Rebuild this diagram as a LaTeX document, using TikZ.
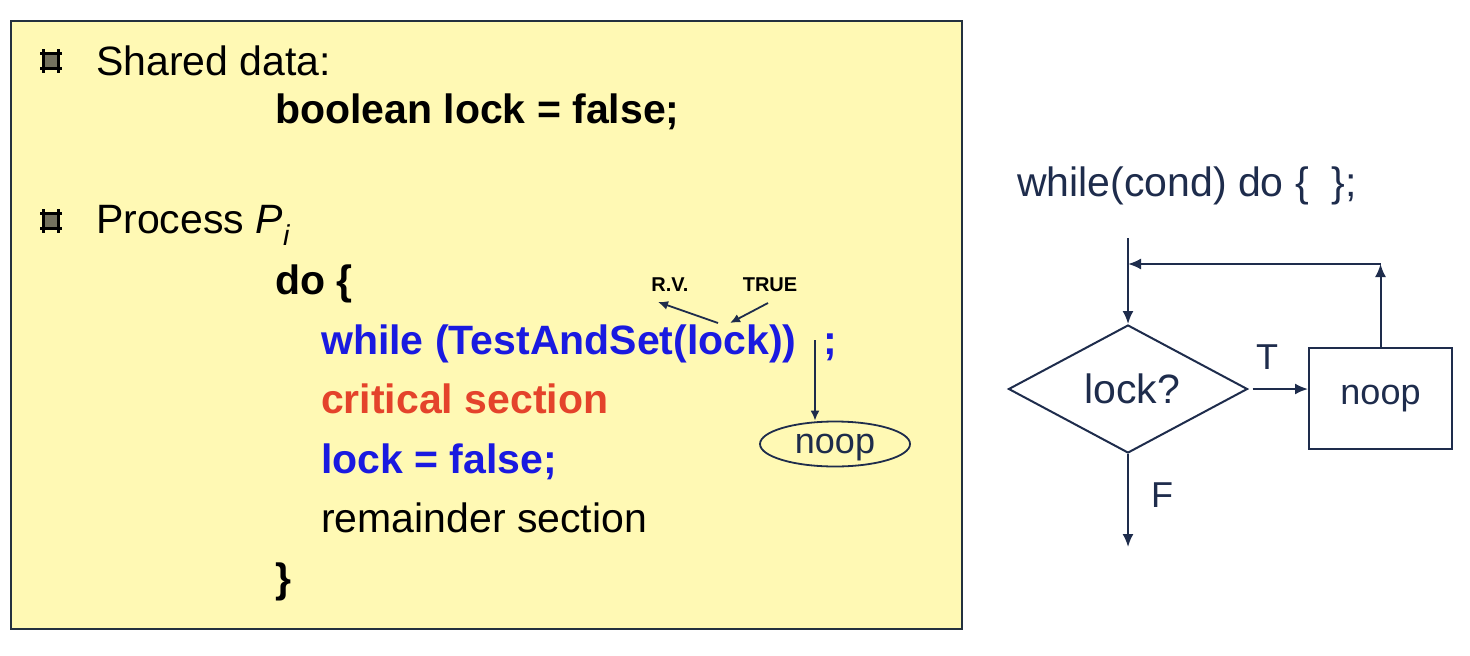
\documentclass[tikz,border=0pt]{standalone}
\usepackage{fontspec}
\setmainfont{Liberation Sans}
\usetikzlibrary{shapes.geometric,arrows.meta}
\definecolor{slidefill}{HTML}{FFF9B4}
\definecolor{slideedge}{HTML}{24313F}
\definecolor{navy}{HTML}{1E2C4C}
\definecolor{codeblue}{HTML}{1A1AE0}
\definecolor{codered}{HTML}{E4432B}
\definecolor{hashgrey}{HTML}{74725F}
\tikzset{
  hashbullet/.pic={
    \fill[hashgrey] (-7.5,-7.5) rectangle (7.5,7.5);
    \draw[black,line width=2.8pt] (-7.5,-12) -- (-7.5,12) (7.5,-12) -- (7.5,12)
      (-11,-7.5) -- (11,-7.5) (-11,7.5) -- (11,7.5);
  }
}
\begin{document}
\begin{tikzpicture}[x=1pt,y=-1pt,
  txt/.style={anchor=base west,inner sep=0pt,font=\fontsize{41}{49}\selectfont},
  btxt/.style={anchor=base west,inner sep=0pt,font=\fontsize{41}{49}\selectfont\bfseries},
  small/.style={inner sep=0pt,font=\fontsize{20}{24}\selectfont\bfseries},
  rtxt/.style={anchor=base west,inner sep=0pt,text=navy,font=\fontsize{41}{49}\selectfont},
  lbl/.style={inner sep=0pt,text=navy,font=\fontsize{36}{43}\selectfont},
  larr/.style={draw=navy,line width=1.8pt,-{Latex[length=10pt,width=9pt]}},
  farr/.style={draw=navy,line width=2pt,-{Latex[length=13pt,width=11pt]}},
  decision/.style={diamond,draw=navy,line width=2pt,aspect=1.87,minimum width=239pt,minimum height=128pt,inner sep=0pt,text=navy,font=\fontsize{41}{49}\selectfont},
  procbox/.style={rectangle,draw=navy,line width=2pt,minimum width=143pt,minimum height=101pt,inner sep=0pt,text=navy,font=\fontsize{36}{43}\selectfont},
  ovalnode/.style={ellipse,draw=navy,line width=1.8pt,minimum width=150pt,minimum height=45pt,inner sep=0pt,text depth=0pt,text=navy,font=\fontsize{36}{43}\selectfont},
  panelbox/.style={rectangle,draw=slideedge,fill=slidefill,line width=2.5pt,minimum width=951pt,minimum height=608pt,inner sep=0pt}
]
\useasboundingbox (0,0) rectangle (1470,656);
\fill[white] (0,0) rectangle (1470,656);

% left panel
\node[panelbox] (panel) at (486.5,325) {};
\pic at (51,61) {hashbullet};
\pic at (51,221) {hashbullet};
\node[txt] (shared) at (96,75) {Shared data:};
\node[btxt] (decl) at (275,123) {boolean lock = false;};
\node[txt] (proc) at (96,233) {Process \textit{P}\textsubscript{\textit{i}}};
\node[btxt] (do) at (275,294) {do \{};
\node[btxt,text=codeblue] (while) at (321,354) {while (TestAndSet(lock))};
\node[btxt,text=codeblue] (semi) at (823,354) {;};
\node[btxt,text=codered] (crit) at (321,413) {critical section};
\node[btxt,text=codeblue] (unlock) at (321,473) {lock = false;};
\node[txt] (rem) at (321,532) {remainder section};
\node[btxt] (close) at (275,592) {\}};

% annotations
\node[small] (rv) at (670,285) {R.V.};
\node[small] (true) at (770,285) {TRUE};
\coordinate (lockL) at (718,323);
\coordinate (lockR) at (730,323);
\coordinate (rvtip) at (658,302);
\coordinate (truefoot) at (768,303);
\draw[larr] (lockL) -- (rvtip);
\draw[larr] (truefoot) -- (lockR);
\node[ovalnode] (noopL) at (835,444) {noop};
\coordinate (semitop) at (815,340);
\draw[larr] (semitop) -- (semitop |- noopL.north);

% right flowchart
\node[rtxt] (code) at (1017,196) {while(cond) do \{\ \ \};};
\node[decision] (dec) at (1128,389) {\hspace*{8pt}lock?};
\node[procbox] (noopR) at (1380.5,398.5) {noop};
\coordinate (start) at (1128,238);
\coordinate (join) at (1128,264);
\coordinate (exit) at (1128,547);
\draw[farr] (start) -- (dec.north);
\draw[farr,shorten <=4pt] (dec.east) -- (dec.east -| noopR.west);
\draw[farr] (noopR.north) -- (noopR.north |- join);
\draw[farr] (noopR.north |- join) -- (join);
\draw[farr] (dec.south) -- (exit);
\node[lbl] (T) at (1267,357) {T};
\node[lbl] (F) at (1162,495) {F};
\end{tikzpicture}
\end{document}
